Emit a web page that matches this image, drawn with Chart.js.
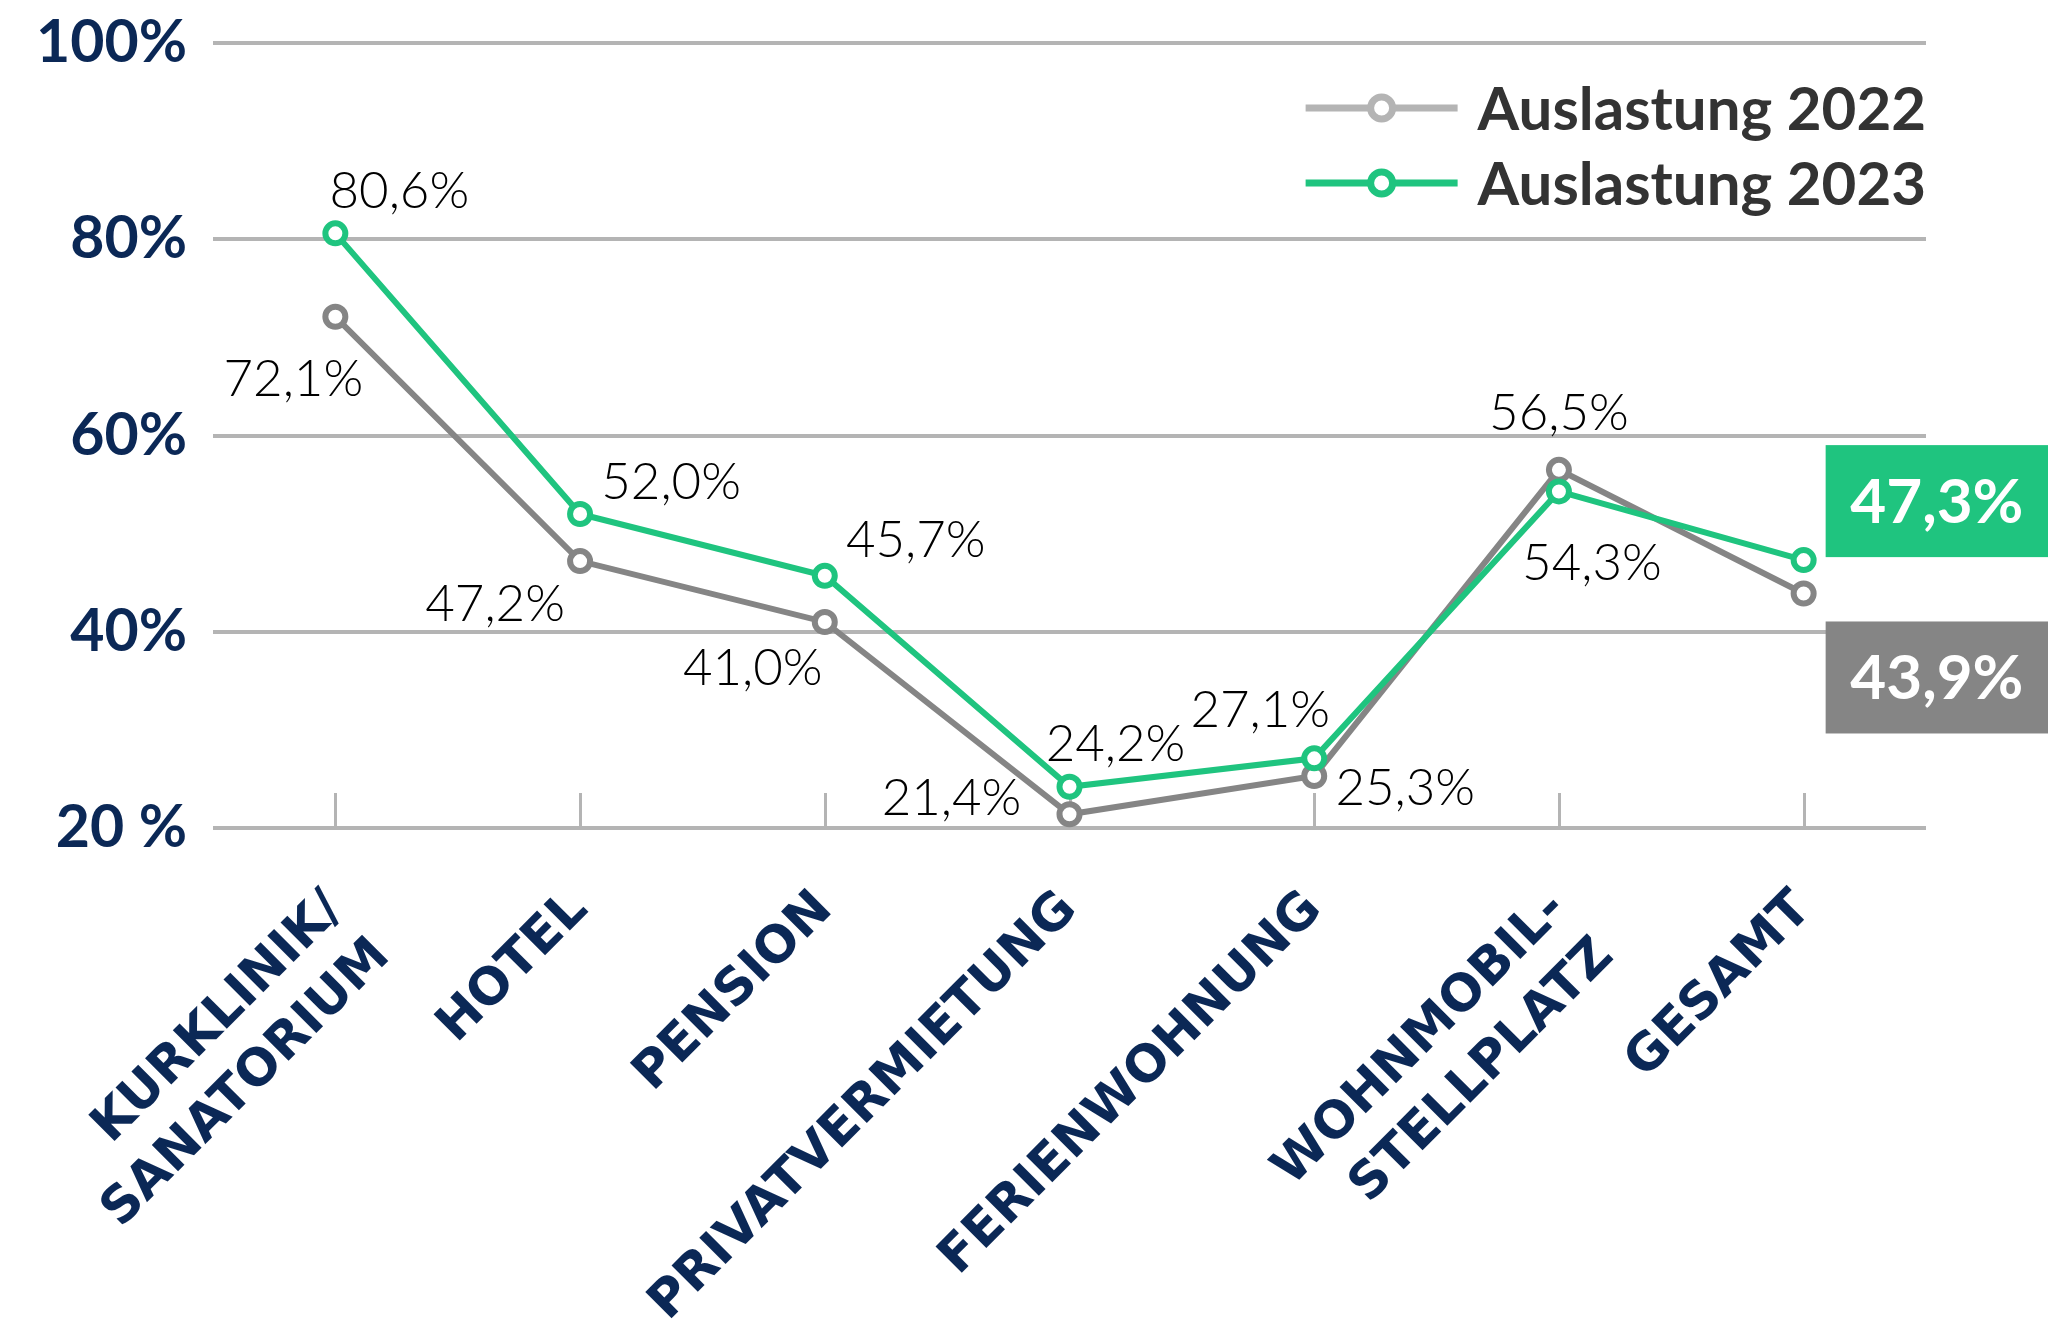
<!DOCTYPE html>
<html lang="de">
<head>
<meta charset="utf-8">
<title>Auslastung 2022 / 2023</title>
<script src="https://cdn.jsdelivr.net/npm/chart.js@4.4.0/dist/chart.umd.min.js"></script>
<style>
    html, body { margin: 0; padding: 0; background: #fff; }
    #wrap { width: 2048px; height: 1332px; }
</style>
</head>
<body>
<div id="wrap"><canvas id="auslastungChart" width="2048" height="1332"></canvas></div>
<script>
// ===== DATEN =====
const kategorien = [['KURKLINIK/', 'SANATORIUM'], 'HOTEL', 'PENSION', 'PRIVATVERMIETUNG', 'FERIENWOHNUNG', ['WOHNMOBIL-', 'STELLPLATZ'], 'GESAMT'];
const auslastung2022 = [72.1, 47.2, 41.0, 21.4, 25.3, 56.5, 43.9];
const auslastung2023 = [80.6, 52.0, 45.7, 24.2, 27.1, 54.3, 47.3];
const yTicks = [20, 40, 60, 80, 100];
const yTickLabels = ['20 %', '40%', '60%', '80%', '100%'];
const serienNamen = ['Auslastung 2022', 'Auslastung 2023'];

// Versatz der Wertebeschriftungen (px), letzter Punkt bekommt eine Box
const versatz2022 = [[-42, 63], [-85, 43], [-72, 47], [-118, -16], [91, 13], [0, -56], null];
const versatz2023 = [[64, -42], [91, -31], [91, -35], [46, -42], [-54, -48], [33, 72], null];

// Farben
const GRAU = '#858585';
const GRAU_HELL = '#b4b4b4';
const GRUEN = '#1fc47f';
const NAVY = '#0b2856';

const formatProzent = v => v.toFixed(1).replace('.', ',') + '%';

// Kleine Striche an den Kategorien (nach oben)
const tickStriche = {
    id: 'tickStriche',
    beforeDatasetsDraw(chart) {
        const { ctx, chartArea, scales: { x } } = chart;
        ctx.save();
        ctx.strokeStyle = GRAU_HELL;
        ctx.lineWidth = 3;
        x.ticks.forEach((t, i) => {
            const px = Math.round(x.getPixelForTick(i)) + 0.5;
            ctx.beginPath();
            ctx.moveTo(px, chartArea.bottom - 35);
            ctx.lineTo(px, chartArea.bottom);
            ctx.stroke();
        });
        ctx.restore();
    }
};

// Wertebeschriftungen + Boxen am Ende
const wertLabels = {
    id: 'wertLabels',
    afterDatasetsDraw(chart) {
        const { ctx } = chart;
        const versatz = [versatz2022, versatz2023];
        ctx.save();
        chart.data.datasets.forEach((ds, di) => {
            const meta = chart.getDatasetMeta(di);
            meta.data.forEach((pt, i) => {
                const off = versatz[di][i];
                if (!off) return;
                ctx.font = '300 51px Lato, "Open Sans", sans-serif';
                ctx.fillStyle = '#000';
                ctx.textAlign = 'center';
                ctx.textBaseline = 'middle';
                ctx.fillText(formatProzent(ds.data[i]), pt.x + off[0], pt.y + off[1]);
            });

            // Box für GESAMT
            const last = meta.data[meta.data.length - 1];
            const left = last.x + 22;
            const right = chart.width;
            const h = 112;
            const top = di === 1 ? last.y - 115 : last.y + 28;
            ctx.fillStyle = di === 1 ? GRUEN : GRAU;
            ctx.fillRect(left, top, right - left, h);
            ctx.fillStyle = '#fff';
            ctx.font = 'bold 62px Lato, sans-serif';
            ctx.textAlign = 'center';
            ctx.textBaseline = 'middle';
            ctx.fillText(formatProzent(ds.data[ds.data.length - 1]), (left + right) / 2, top + h / 2 + 2);
        });
        ctx.restore();
    }
};

// Legende oben rechts
const legende = {
    id: 'legende',
    afterDraw(chart) {
        const { ctx, chartArea } = chart;
        const farben = [GRAU_HELL, GRUEN];
        const zeilenY = [108, 183];
        ctx.save();
        ctx.font = 'bold 60px Lato, sans-serif';
        ctx.textBaseline = 'middle';
        serienNamen.forEach((name, i) => {
            const textW = ctx.measureText(name).width;
            const textX = chartArea.right - textW;
            const y = zeilenY[i];
            const x1 = textX - 172, x2 = textX - 20, cx = (x1 + x2) / 2;
            ctx.strokeStyle = farben[i];
            ctx.lineWidth = 7;
            ctx.beginPath();
            ctx.moveTo(x1, y);
            ctx.lineTo(x2, y);
            ctx.stroke();
            ctx.beginPath();
            ctx.arc(cx, y, 11, 0, Math.PI * 2);
            ctx.fillStyle = '#fff';
            ctx.fill();
            ctx.stroke();
            ctx.fillStyle = '#333';
            ctx.textAlign = 'left';
            ctx.fillText(name, textX, y + 3);
        });
        ctx.restore();
    }
};

const linienStil = farbe => ({
    borderColor: farbe,
    borderWidth: 6,
    pointRadius: 10,
    pointBorderWidth: 6,
    pointBorderColor: farbe,
    pointBackgroundColor: '#fff',
    tension: 0,
    clip: false
});

const ctx = document.getElementById('auslastungChart').getContext('2d');
new Chart(ctx, {
    type: 'line',
    data: {
        labels: kategorien,
        datasets: [
            { label: serienNamen[0], data: auslastung2022, order: 2, ...linienStil(GRAU) },
            { label: serienNamen[1], data: auslastung2023, order: 1, ...linienStil(GRUEN) }
        ]
    },
    options: {
        responsive: false,
        animation: false,
        devicePixelRatio: 1,
        layout: { padding: { left: 0, top: 43, right: 122, bottom: 0 } },
        plugins: {
            legend: { display: false },
            tooltip: { enabled: false }
        },
        scales: {
            x: {
                offset: true,
                grid: { display: false, drawTicks: false },
                border: { display: false },
                ticks: {
                    autoSkip: false,
                    minRotation: 45,
                    maxRotation: 45,
                    padding: 50,
                    color: NAVY,
                    font: { family: '"DejaVu Sans", sans-serif', weight: 'bold', size: 51, lineHeight: 1.3 }
                },
                afterFit(scale) {
                    scale.height = 504;
                    scale.paddingLeft = 0;
                    scale.paddingRight = 0;
                }
            },
            y: {
                min: 20,
                max: 100,
                grid: { color: GRAU_HELL, lineWidth: 4, drawTicks: false },
                border: { display: false },
                ticks: {
                    stepSize: 20,
                    padding: 26,
                    color: NAVY,
                    font: { family: 'Lato, sans-serif', weight: 'bold', size: 59 },
                    callback: v => yTickLabels[yTicks.indexOf(v)]
                },
                afterFit(scale) {
                    scale.width = 213;
                    scale.paddingTop = 0;
                    scale.paddingBottom = 0;
                }
            }
        }
    },
    plugins: [tickStriche, wertLabels, legende]
});
</script>
</body>
</html>
